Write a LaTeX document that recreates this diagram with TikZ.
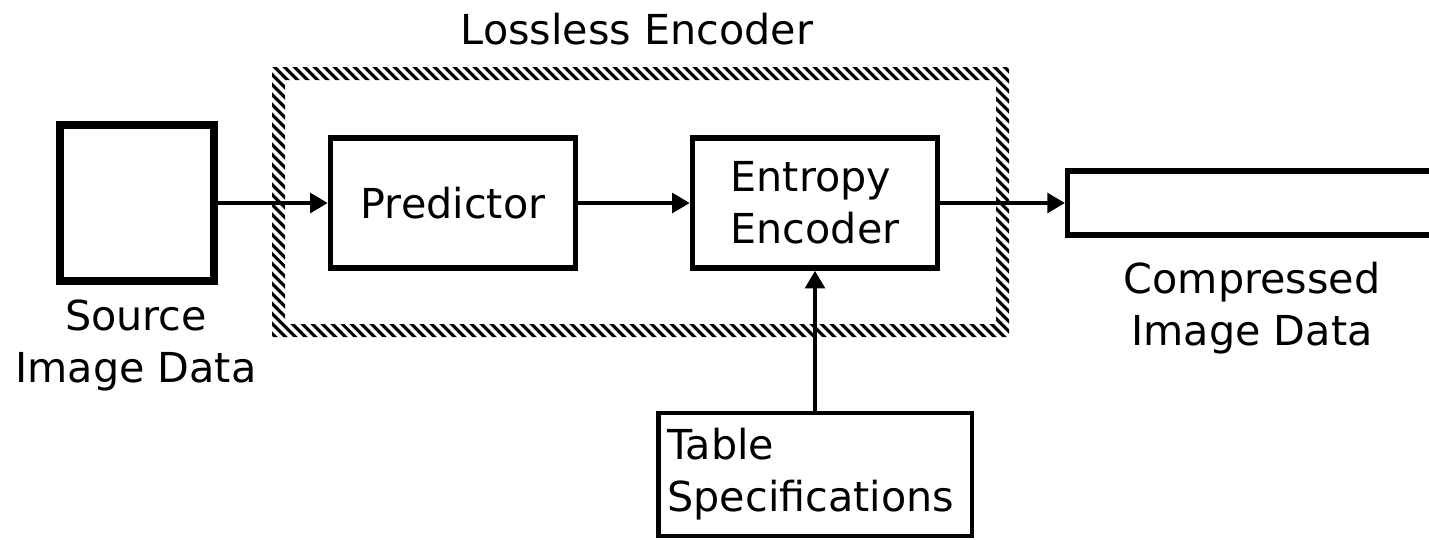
\documentclass[tikz,border=0pt]{standalone}
\usepackage{fontspec}
\setmainfont{DejaVu Sans}
\usetikzlibrary{arrows.meta, patterns.meta}

\begin{document}
\begin{tikzpicture}[x=0.02cm, y=-0.02cm,
        font=\fontsize{23.5}{29.5}\selectfont,
        blk/.style={draw, line width=3.1pt, inner sep=0pt},
        flow/.style={line width=2.4pt, -{Triangle[length=10pt, width=11pt]}}]
    \useasboundingbox (0,0) rectangle (1429,539);
    \clip (0,0) rectangle (1429,539);
    % hatched frame round the encoder
    \fill[pattern={Lines[angle=-45, distance=4pt, line width=1.9pt]}, even odd rule]
        (272,67) rectangle (1009,337) (285,80) rectangle (996,324);
    \node[anchor=base] (enc) at (637,44) {Lossless Encoder};
    % blocks
    \node[blk, line width=4.5pt, minimum width=3.08cm, minimum height=3.12cm] (src) at (137,203) {};
    \node[blk, minimum width=4.9cm, minimum height=2.6cm] (pred) at (453,203) {Predictor};
    \node[blk, minimum width=4.9cm, minimum height=2.6cm, align=left] (ent) at (815,203) {Entropy\\Encoder};
    \node[blk, minimum width=10cm, minimum height=1.28cm, anchor=west] (cmp) at (1065,203) {};
    \node[blk, line width=2.8pt, minimum width=6.28cm, minimum height=2.46cm,
          text width=5.9cm, align=left] (tab) at (815,474.5) {Table\\Specifications};
    % labels (base = last line)
    \node[anchor=base, align=center] (srclbl) at (136,382) {Source\\Image Data};
    \node[anchor=base, align=center] (cmplbl) at (1252,345) {Compressed\\Image Data};
    % data flow
    \draw[flow] (src.east) -- (pred.west);
    \draw[flow] (pred.east) -- (ent.west);
    \draw[flow] (ent.east) -- (cmp.west);
    \draw[flow] (tab.north) -- (ent.south);
\end{tikzpicture}
\end{document}
